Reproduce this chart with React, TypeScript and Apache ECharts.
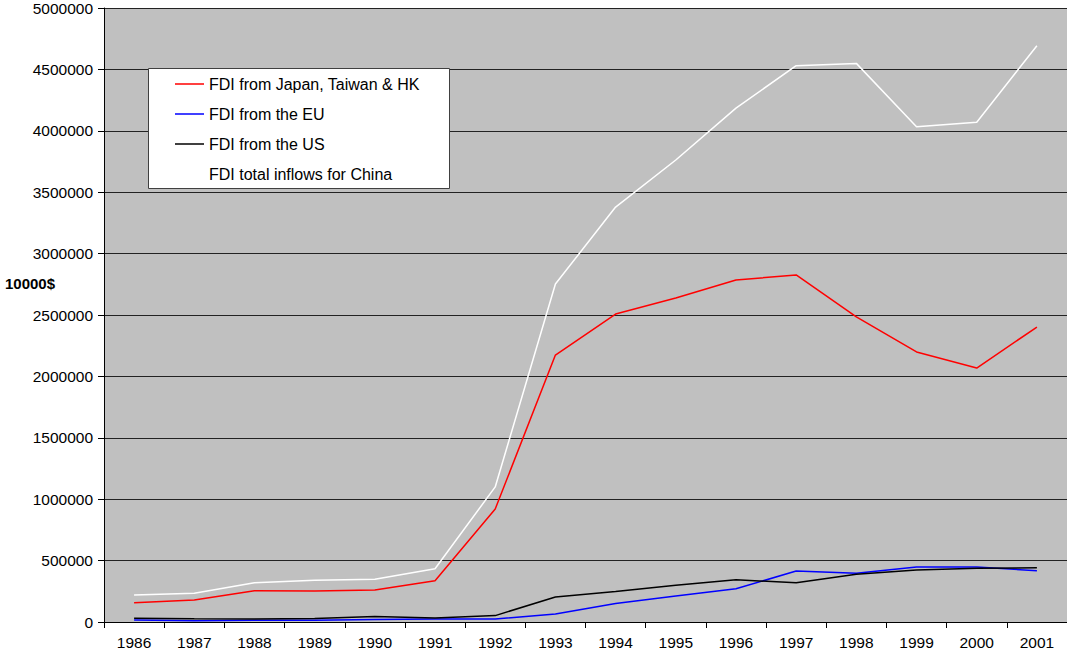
import React, { useEffect, useRef } from "react";
import * as echarts from "echarts";

const years = ["1986","1987","1988","1989","1990","1991","1992","1993","1994","1995","1996","1997","1998","1999","2000","2001"];
const japanTaiwanHK = [157000,179000,255000,252000,261000,336000,920000,2174000,2508000,2638000,2785000,2826000,2484000,2199000,2068000,2402000];
const eu = [16000,10000,15000,15000,20000,25000,25000,65000,150000,212000,270000,415000,397000,448000,448000,418000];
const us = [30000,26000,24000,28000,44000,33000,52000,204000,249000,300000,344000,320000,389000,423000,437000,442000];
const total = [220000,234000,320000,340000,348000,434000,1100000,2752000,3379000,3762000,4185000,4530000,4549000,4033000,4069000,4693000];

const FONT = "'Liberation Sans', Arial, sans-serif";

export default function App() {
  const ref = useRef<HTMLDivElement>(null);
  useEffect(() => {
    document.body.style.margin = "0";
    const chart = echarts.init(ref.current!, undefined, { renderer: "svg" });
    const mk = (name: string, data: number[], color: string) => ({
      name,
      type: "line",
      data,
      symbol: "none",
      showSymbol: false,
      lineStyle: { color, width: 1.5 },
      itemStyle: { color },
    });
    chart.setOption({
      animation: false,
      backgroundColor: "#ffffff",
      textStyle: { fontFamily: FONT },
      grid: { left: 104, top: 8, right: 0, bottom: 36, backgroundColor: "#C0C0C0", show: true, borderWidth: 0 },
      xAxis: {
        type: "category",
        data: years,
        boundaryGap: true,
        axisLine: { lineStyle: { color: "#000", width: 1 } },
        axisTick: { show: true, length: 6, lineStyle: { color: "#000" }, interval: 0 },
        axisLabel: { color: "#000", fontSize: 15.5, fontFamily: FONT, margin: 12, interval: 0 },
        splitLine: { show: false },
      },
      yAxis: {
        type: "value",
        min: 0,
        max: 5000000,
        interval: 500000,
        axisLine: { show: true, lineStyle: { color: "#000", width: 1 } },
        axisTick: { show: true, length: 6, lineStyle: { color: "#000" } },
        axisLabel: { color: "#000", fontSize: 15.5, fontFamily: FONT, margin: 11, formatter: (v: number) => String(v) },
        splitLine: { show: true, lineStyle: { color: "#222", width: 1 } },
      },
      legend: {
        orient: "vertical",
        left: 148,
        top: 68,
        padding: [8, 0, 0, 27],
        icon: "rect",
        itemWidth: 29,
        itemHeight: 1.5,
        itemGap: 14,
        z: 10,
        textStyle: { color: "#000", fontSize: 16, fontFamily: FONT, lineHeight: 16 },
        data: ["FDI from Japan, Taiwan & HK", "FDI from the EU", "FDI from the US", "FDI total inflows for China"],
      },
      graphic: [
        {
          type: "rect",
          z: 5,
          shape: { x: 148.5, y: 68.5, width: 301, height: 120 },
          style: { fill: "#ffffff", stroke: "#404040", lineWidth: 1 },
        },
        {
          type: "text",
          left: 5,
          top: 276,
          style: { text: "10000$", fill: "#000", font: `bold 15px ${FONT}` },
        },
      ],
      series: [
        mk("FDI from Japan, Taiwan & HK", japanTaiwanHK, "#FF0000"),
        mk("FDI from the EU", eu, "#0000FF"),
        mk("FDI from the US", us, "#000000"),
        mk("FDI total inflows for China", total, "#FFFFFF"),
      ],
    });
    return () => chart.dispose();
  }, []);
  return <div ref={ref} style={{ width: 1067, height: 658 }} />;
}
